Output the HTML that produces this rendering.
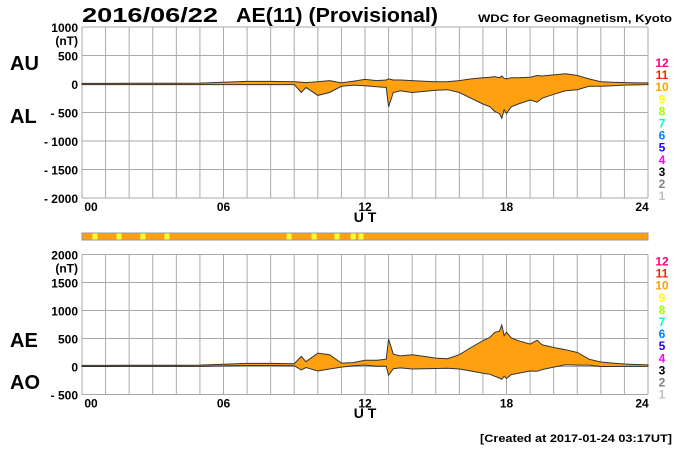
<!DOCTYPE html>
<html><head><meta charset="utf-8"><style>
body{margin:0;background:#fff;width:700px;height:450px;overflow:hidden}
svg{display:block;font-family:"Liberation Sans",Arial,sans-serif}
</style></head><body>
<svg id="c" width="700" height="450" viewBox="0 0 700 450">
<text x="82" y="22" font-size="20" font-weight="bold" textLength="136" lengthAdjust="spacingAndGlyphs">2016/06/22</text>
<text x="236" y="22" font-size="20" font-weight="bold" textLength="202" lengthAdjust="spacingAndGlyphs">AE(11) (Provisional)</text>
<text x="478" y="22" font-size="11" font-weight="bold" textLength="194" lengthAdjust="spacingAndGlyphs">WDC for Geomagnetism, Kyoto</text>
<text x="10" y="70" font-size="20" font-weight="bold">AU</text>
<text x="10" y="123" font-size="20" font-weight="bold">AL</text>
<text x="10" y="347" font-size="20" font-weight="bold">AE</text>
<text x="10" y="389" font-size="20" font-weight="bold">AO</text>
<text x="365" y="222" font-size="14" font-weight="bold" text-anchor="middle">U T</text>
<text x="365" y="418" font-size="14" font-weight="bold" text-anchor="middle">U T</text>
<text x="672" y="442" font-size="11" font-weight="bold" text-anchor="end" textLength="192" lengthAdjust="spacingAndGlyphs">[Created at 2017-01-24 03:17UT]</text>
<g id="g"></g>
</svg>
<script>
const hours=[0,1,2,3,4,5,6,7,8,9,9.3,9.5,10,10.5,11,11.5,12,12.5,12.9,13,13.2,13.5,14,14.5,15,15.5,16,16.5,17,17.3,17.5,17.7,17.8,17.9,18,18.2,18.5,19,19.3,19.5,20,20.5,21,21.5,22,22.5,23,23.5,24];
const auValues=[10,10,12,12,12,15,30,45,45,40,30,25,40,60,20,50,80,60,70,90,70,70,60,50,40,40,60,90,110,120,130,110,140,100,90,110,110,120,150,140,160,180,150,90,40,30,25,20,20];
const alValues=[-10,-10,-10,-10,-10,-10,-10,-10,-10,-10,-150,-60,-200,-150,-40,-20,-30,-50,-60,-400,-150,-120,-150,-130,-110,-100,-150,-250,-350,-400,-480,-520,-600,-450,-520,-400,-350,-280,-320,-250,-180,-120,-100,-40,-40,-30,-20,-15,-10];
const flagHours=[0.55,1.57,2.58,3.6,8.78,9.84,10.81,11.5,11.83];
const topTicks=["1000","500","0","- 500","- 1000","- 1500","- 2000"];
const topTickVals=[1000,500,0,-500,-1000,-1500,-2000];
const botTicks=["2000","1500","1000","500","0","- 500"];
const botTickVals=[2000,1500,1000,500,0,-500];
const xTicks=["00","06","12","18","24"];
const xTickHours=[0,6,12,18,24];
const stationLabels=["12","11","10","9","8","7","6","5","4","3","2","1"];
const stationColors=["#ff0080","#ff2000","#ffa000","#ffff00","#a0ff00","#00ffc0","#0080ff","#2000ff","#ff00ff","#000","#808080","#c0c0c0"];

const NS="http://www.w3.org/2000/svg";
const g=document.getElementById('g');
const X0=82,X1=648;
const x=h=>X0+(X1-X0)*h/24;
const yTop=v=>84-v*28.5/500;
const yBot=v=>366.5-v*28/500;
function mk(t,a,p){const e=document.createElementNS(NS,t);for(const k in a)e.setAttribute(k,a[k]);(p||g).appendChild(e);return e;}

function panel(yf,vmax,vmin,ticks,tickVals,name){
  const pg=mk('g',{});
  
  
  for(let h=0;h<=24;h++){const l=mk('line',{x1:x(h),x2:x(h),y1:yf(vmax),y2:yf(vmin),stroke:'#aaa','stroke-width':1},pg);
    }
  tickVals.forEach((v,i)=>{const l=mk('line',{x1:X0,x2:X1,y1:yf(v),y2:yf(v),stroke:'#aaa','stroke-width':1},pg);
    
    const t=mk('text',{x:X0-4,y:yf(v)+5,'font-size':12,'font-weight':'bold','text-anchor':'end'},pg);t.textContent=ticks[i];
    });
  const u=mk('text',{x:X0-4,y:yf(vmax)+18,'font-size':12,'font-weight':'bold','text-anchor':'end'},pg);u.textContent='(nT)';
  
  xTickHours.forEach((h,i)=>{const t=mk('text',{x:x(h)+(i==0?9:i==4?-6:0),y:yf(vmin)+13,'font-size':12,'font-weight':'bold','text-anchor':'middle'},pg);t.textContent=xTicks[i];
    });
  stationLabels.forEach((s,i)=>{const yy=yf(vmax)+(name=='au-al'?40:11)+i*12.1;
    const t=mk('text',{x:662,y:yy,'font-size':12,'font-weight':'bold','text-anchor':'middle',fill:stationColors[i]},pg);t.textContent=s;
    });
  return pg;
}
const p1=panel(yTop,1000,-2000,topTicks,topTickVals,'au-al');
const p2=panel(yBot,2000,-500,botTicks,botTickVals,'ae-ao');

function band(up,lo,yf,p,name){
  let d='M'+hours.map((h,i)=>x(h).toFixed(1)+','+yf(up[i]).toFixed(1)).join('L');
  for(let i=hours.length-1;i>=0;i--)d+='L'+x(hours[i]).toFixed(1)+','+yf(lo[i]).toFixed(1);
  const e=mk('path',{d:d+'Z',fill:'#ffa010',stroke:'#333','stroke-width':1},p);
  
}
band(auValues,alValues,yTop,p1,'au-al-band');
const aeValues=auValues.map((a,i)=>a-alValues[i]);
const aoValues=auValues.map((a,i)=>(a+alValues[i])/2);
band(aeValues,aoValues,yBot,p2,'ae-ao-band');

const bar=mk('rect',{x:X0,y:233,width:X1-X0,height:7,fill:'#ffa010',stroke:'#999','stroke-width':1});

flagHours.forEach(h=>{const r=mk('rect',{x:x(h)-2.5,y:233.5,width:5,height:6,fill:'#ffff30'});
  });
</script>
</body></html>
